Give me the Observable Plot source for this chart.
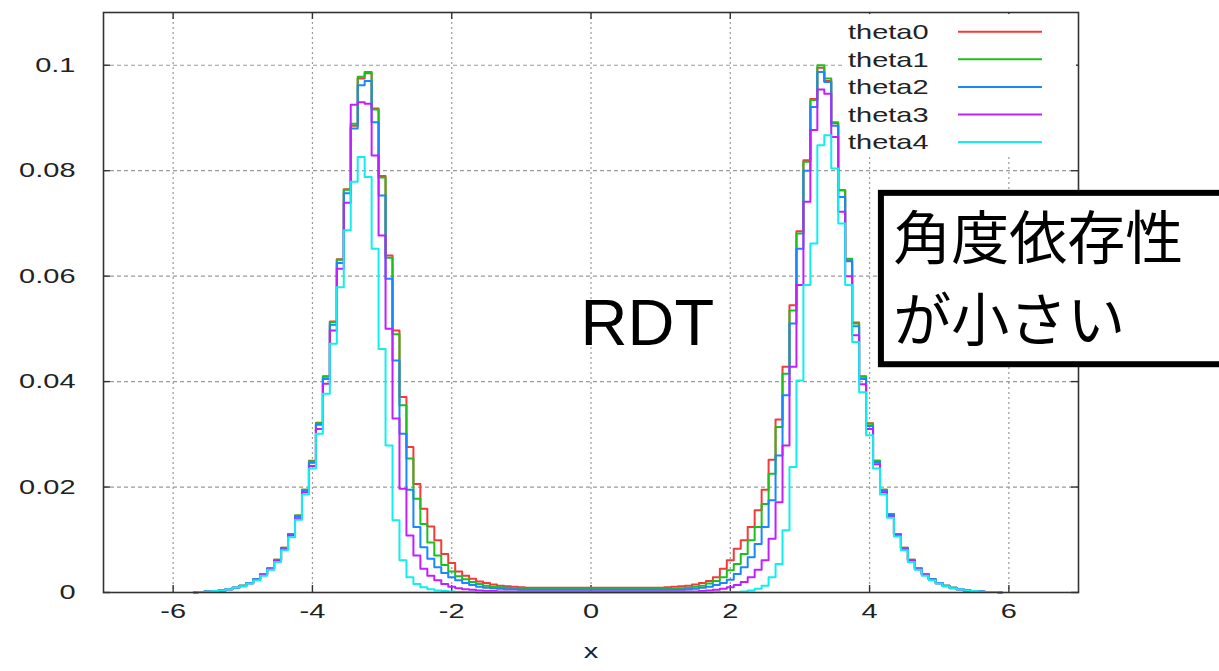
<!DOCTYPE html>
<html>
<head>
<meta charset="utf-8">
<script src="https://cdn.jsdelivr.net/npm/d3@7"></script>
<script src="https://cdn.jsdelivr.net/npm/@observablehq/plot@0.6"></script>
<style>
  html, body { margin: 0; padding: 0; background: #fff; overflow: hidden; }
</style>
</head>
<body>
<div id="chart"></div>
<script>
// Histograms of x for five angles, bins of width 0.1 centred on binStart + i*binWidth
const seriesNames = ["theta0", "theta1", "theta2", "theta3", "theta4"];
const seriesColors = ["#f53a3a", "#1cc01c", "#1a86ff", "#c020ff", "#10eeee"];
const binStart = -5.7;
const binWidth = 0.1;

const theta0 = [
  0, 0.0001, 0.0002, 0.0003, 0.0004, 0.0006, 0.0009, 0.0013, 0.0018, 0.0025,
  0.0035, 0.0046, 0.0062, 0.0085, 0.0111, 0.0146, 0.0195, 0.0250, 0.0322, 0.0410,
  0.0514, 0.0632, 0.0765, 0.0885, 0.0975, 0.0985, 0.0918, 0.0790, 0.0639, 0.0497,
  0.0371, 0.0276, 0.0206, 0.0159, 0.0125, 0.0099, 0.0073, 0.0056, 0.0040, 0.0032,
  0.0026, 0.0021, 0.0018, 0.0015, 0.0013, 0.0012, 0.0011, 0.0010, 0.0009, 0.0009,
  0.0009, 0.0009, 0.0009, 0.0009, 0.0009, 0.0009, 0.0009, 0.0009, 0.0009, 0.0009,
  0.0009, 0.0009, 0.0009, 0.0009, 0.0009, 0.0009, 0.0009, 0.0009, 0.0010, 0.0011,
  0.0012, 0.0013, 0.0015, 0.0018, 0.0022, 0.0029, 0.0045, 0.0061, 0.0083, 0.0099,
  0.0124, 0.0156, 0.0195, 0.0252, 0.0328, 0.0428, 0.0545, 0.0685, 0.0820, 0.0936,
  0.0995, 0.0970, 0.0890, 0.0763, 0.0630, 0.0512, 0.0410, 0.0321, 0.0250, 0.0195,
  0.0149, 0.0111, 0.0085, 0.0062, 0.0046, 0.0035, 0.0025, 0.0018, 0.0013, 0.0009,
  0.0006, 0.0004, 0.0003, 0.0002, 0.0001, 0.0001, 0
];
const theta1 = [
  0, 0.0001, 0.0002, 0.0003, 0.0004, 0.0006, 0.0009, 0.0013, 0.0018, 0.0025,
  0.0035, 0.0046, 0.0062, 0.0085, 0.0111, 0.0146, 0.0195, 0.0249, 0.0321, 0.0409,
  0.0513, 0.0631, 0.0764, 0.0889, 0.0978, 0.0987, 0.0916, 0.0787, 0.0635, 0.0490,
  0.0355, 0.0254, 0.0178, 0.0130, 0.0095, 0.0070, 0.0052, 0.0040, 0.0031, 0.0025,
  0.0020, 0.0016, 0.0013, 0.0011, 0.0010, 0.0009, 0.0008, 0.0008, 0.0007, 0.0007,
  0.0007, 0.0007, 0.0007, 0.0007, 0.0007, 0.0007, 0.0007, 0.0007, 0.0007, 0.0007,
  0.0007, 0.0007, 0.0007, 0.0007, 0.0007, 0.0007, 0.0007, 0.0007, 0.0007, 0.0007,
  0.0008, 0.0009, 0.0011, 0.0013, 0.0017, 0.0022, 0.0029, 0.0042, 0.0054, 0.0073,
  0.0099, 0.0124, 0.0168, 0.0225, 0.0314, 0.0415, 0.0535, 0.0681, 0.0817, 0.0934,
  0.1000, 0.0975, 0.0892, 0.0763, 0.0633, 0.0510, 0.0409, 0.0320, 0.0250, 0.0195,
  0.0149, 0.0111, 0.0085, 0.0062, 0.0046, 0.0035, 0.0025, 0.0018, 0.0013, 0.0009,
  0.0006, 0.0004, 0.0003, 0.0002, 0.0001, 0.0001, 0
];
const theta2 = [
  0, 0.0001, 0.0002, 0.0003, 0.0004, 0.0006, 0.0009, 0.0013, 0.0018, 0.0025,
  0.0034, 0.0045, 0.0061, 0.0084, 0.0110, 0.0144, 0.0193, 0.0246, 0.0318, 0.0405,
  0.0508, 0.0625, 0.0757, 0.0880, 0.0962, 0.0970, 0.0892, 0.0753, 0.0595, 0.0440,
  0.0301, 0.0195, 0.0124, 0.0086, 0.0064, 0.0048, 0.0037, 0.0029, 0.0023, 0.0018,
  0.0014, 0.0011, 0.0009, 0.0008, 0.0007, 0.0006, 0.0006, 0.0005, 0.0005, 0.0005,
  0.0005, 0.0005, 0.0005, 0.0005, 0.0005, 0.0005, 0.0005, 0.0005, 0.0005, 0.0005,
  0.0005, 0.0005, 0.0005, 0.0005, 0.0005, 0.0005, 0.0005, 0.0005, 0.0005, 0.0005,
  0.0005, 0.0006, 0.0007, 0.0009, 0.0011, 0.0014, 0.0018, 0.0024, 0.0035, 0.0048,
  0.0067, 0.0092, 0.0124, 0.0175, 0.0260, 0.0374, 0.0510, 0.0652, 0.0800, 0.0921,
  0.0987, 0.0968, 0.0885, 0.0750, 0.0628, 0.0505, 0.0405, 0.0316, 0.0247, 0.0193,
  0.0147, 0.0110, 0.0084, 0.0061, 0.0045, 0.0034, 0.0025, 0.0018, 0.0013, 0.0009,
  0.0006, 0.0004, 0.0003, 0.0002, 0.0001, 0.0001, 0
];
const theta3 = [
  0, 0.0001, 0.0002, 0.0003, 0.0004, 0.0006, 0.0009, 0.0012, 0.0017, 0.0024,
  0.0033, 0.0044, 0.0060, 0.0082, 0.0108, 0.0141, 0.0190, 0.0240, 0.0310, 0.0396,
  0.0497, 0.0614, 0.0739, 0.0925, 0.0930, 0.0927, 0.0829, 0.0677, 0.0500, 0.0330,
  0.0197, 0.0108, 0.0070, 0.0045, 0.0032, 0.0023, 0.0016, 0.0011, 0.0008, 0.0006,
  0.0005, 0.0004, 0.0003, 0.0003, 0.0002, 0.0002, 0.0002, 0.0002, 0.0002, 0.0002,
  0.0002, 0.0002, 0.0002, 0.0002, 0.0002, 0.0002, 0.0002, 0.0002, 0.0002, 0.0002,
  0.0002, 0.0002, 0.0002, 0.0002, 0.0002, 0.0002, 0.0002, 0.0002, 0.0002, 0.0002,
  0.0002, 0.0002, 0.0002, 0.0003, 0.0004, 0.0005, 0.0007, 0.0010, 0.0014, 0.0020,
  0.0029, 0.0043, 0.0061, 0.0102, 0.0171, 0.0279, 0.0428, 0.0583, 0.0741, 0.0877,
  0.0954, 0.0946, 0.0864, 0.0722, 0.0600, 0.0488, 0.0395, 0.0310, 0.0243, 0.0190,
  0.0145, 0.0108, 0.0082, 0.0060, 0.0044, 0.0033, 0.0024, 0.0017, 0.0012, 0.0008,
  0.0006, 0.0004, 0.0003, 0.0002, 0.0001, 0.0001, 0
];
const theta4 = [
  0, 0.0001, 0.0002, 0.0003, 0.0004, 0.0006, 0.0009, 0.0012, 0.0017, 0.0023,
  0.0032, 0.0043, 0.0058, 0.0080, 0.0105, 0.0138, 0.0186, 0.0235, 0.0301, 0.0377,
  0.0472, 0.0579, 0.0687, 0.0779, 0.0826, 0.0788, 0.0652, 0.0462, 0.0279, 0.0137,
  0.0061, 0.0029, 0.0016, 0.0010, 0.0006, 0.0004, 0.0003, 0.0002, 0.0001, 0.0001,
  0.0001, 0, 0, 0, 0, 0, 0, 0, 0, 0,
  0, 0, 0, 0, 0, 0, 0, 0, 0, 0,
  0, 0, 0, 0, 0, 0, 0, 0, 0, 0,
  0, 0, 0, 0, 0, 0.0001, 0.0001, 0.0001, 0.0001, 0.0002,
  0.0004, 0.0007, 0.0013, 0.0029, 0.0054, 0.0118, 0.0238, 0.0402, 0.0583, 0.0662,
  0.0848, 0.0867, 0.0804, 0.0700, 0.0583, 0.0475, 0.0380, 0.0298, 0.0235, 0.0186,
  0.0142, 0.0106, 0.0080, 0.0058, 0.0043, 0.0032, 0.0023, 0.0017, 0.0012, 0.0008,
  0.0006, 0.0004, 0.0003, 0.0002, 0.0001, 0.0001, 0
];

const xTicks = [-6, -4, -2, 0, 2, 4, 6];
const xTickLabels = ["-6", "-4", "-2", "0", "2", "4", "6"];
const yTicks = [0, 0.02, 0.04, 0.06, 0.08, 0.1];
const yTickLabels = ["0", "0.02", "0.04", "0.06", "0.08", "0.1"];
const xLabel = "x";
const noteMain = "RDT";
const noteLines = ["角度依存性", "が小さい"];

// Long-format rows for the step lines
const seriesValues = [theta0, theta1, theta2, theta3, theta4];
const rows = seriesNames.flatMap((name, s) =>
  seriesValues[s].map((v, i) => ({series: name, x: binStart + i * binWidth, value: v}))
);

const W = 1219, H = 671;
const mL = 103, mR = 141, mT = 12, mB = 79;
const innerW = W - mL - mR, innerH = H - mT - mB;
const tickLen = 7;

// Annotation placement in data units
const notePos = {x: 0.81, y: 0.0508};
const boxPos = {x1: 4.17, x2: 9.6, y1: 0.0432, y2: 0.0757};
const boxText = [{text: noteLines[0], x: 4.34, y: 0.0668}, {text: noteLines[1], x: 4.34, y: 0.0512}];

const chart = Plot.plot({
  width: W,
  height: H,
  marginLeft: mL,
  marginRight: mR,
  marginTop: mT,
  marginBottom: mB,
  x: {domain: [-7, 7], axis: null},
  y: {domain: [0, 0.11], axis: null},
  color: {domain: seriesNames, range: seriesColors},
  style: {fontFamily: "'Liberation Sans', Arial, sans-serif", background: "#fff", overflow: "hidden"},
  marks: [
    // dotted grid
    Plot.ruleX(xTicks, {x: d => d, stroke: "#9a9a9a", strokeWidth: 1.2, strokeDasharray: "2,3"}),
    Plot.ruleY(yTicks.slice(1), {y: d => d, stroke: "#9a9a9a", strokeWidth: 1.2, strokeDasharray: "4,3"}),
    // inward ticks on all four sides
    Plot.ruleX(xTicks, {x: d => d, stroke: "#333", strokeWidth: 1.4, insetTop: innerH - tickLen}),
    Plot.ruleX(xTicks, {x: d => d, stroke: "#333", strokeWidth: 1.4, insetBottom: innerH - tickLen}),
    Plot.ruleY(yTicks, {y: d => d, stroke: "#333", strokeWidth: 1.4, insetRight: innerW - tickLen}),
    Plot.ruleY(yTicks, {y: d => d, stroke: "#333", strokeWidth: 1.4, insetLeft: innerW - tickLen}),
    // histogram outlines
    Plot.line(rows, {x: "x", y: "value", z: "series", stroke: "series", curve: "step", strokeWidth: 2}),
    Plot.frame({stroke: "#333", strokeWidth: 1.6}),
    // tick labels and axis title
    Plot.text(xTicks, {x: d => d, text: (d, i) => xTickLabels[i], frameAnchor: "bottom", dy: 25, fontSize: 21, fill: "#222"}),
    Plot.text(yTicks, {y: d => d, text: (d, i) => yTickLabels[i], frameAnchor: "left", dx: -28, textAnchor: "end", fontSize: 21, fill: "#222"}),
    Plot.text([xLabel], {frameAnchor: "bottom", dy: 65, fontSize: 21, fill: "#222"}),
    // annotations
    Plot.text([noteMain], {x: () => notePos.x, y: () => notePos.y, fontSize: 65, fill: "#000",
      fontFamily: "'Liberation Sans', Arial, sans-serif"}),
    Plot.rect([boxPos], {x1: "x1", x2: "x2", y1: "y1", y2: "y2", fill: "#fff", stroke: "#000", strokeWidth: 6}),
    Plot.text(boxText, {x: "x", y: "y", text: "text", textAnchor: "start", fontSize: 58, fill: "#000",
      fontFamily: "'Noto Sans CJK JP', sans-serif"})
  ]
});

document.getElementById("chart").append(chart);

// Key in the upper right corner of the frame
const svg = d3.select(chart);
const key = svg.append("g").attr("text-anchor", "start");
key.append("rect").attr("x", 842).attr("y", 14).attr("width", 234).attr("height", 140).attr("fill", "#fff");
seriesNames.forEach((name, i) => {
  const y = 31.7 + 27.6 * i;
  key.append("text")
    .attr("x", 848).attr("y", y).attr("dy", "0.35em")
    .attr("text-anchor", "start")
    .attr("font-size", 21).attr("fill", "#222")
    .attr("font-family", "'Liberation Sans', Arial, sans-serif")
    .text(name);
  key.append("line")
    .attr("x1", 958).attr("x2", 1042).attr("y1", y).attr("y2", y)
    .attr("stroke", seriesColors[i]).attr("stroke-width", 2);
});

// The small labels are set wide, as in the original rendering
svg.selectAll("text").each(function() {
  const size = parseFloat(getComputedStyle(this).fontSize);
  if (size < 30) {
    const len = this.getComputedTextLength();
    this.setAttribute("textLength", (len * 1.38).toFixed(1));
    this.setAttribute("lengthAdjust", "spacingAndGlyphs");
  }
});
</script>
</body>
</html>
